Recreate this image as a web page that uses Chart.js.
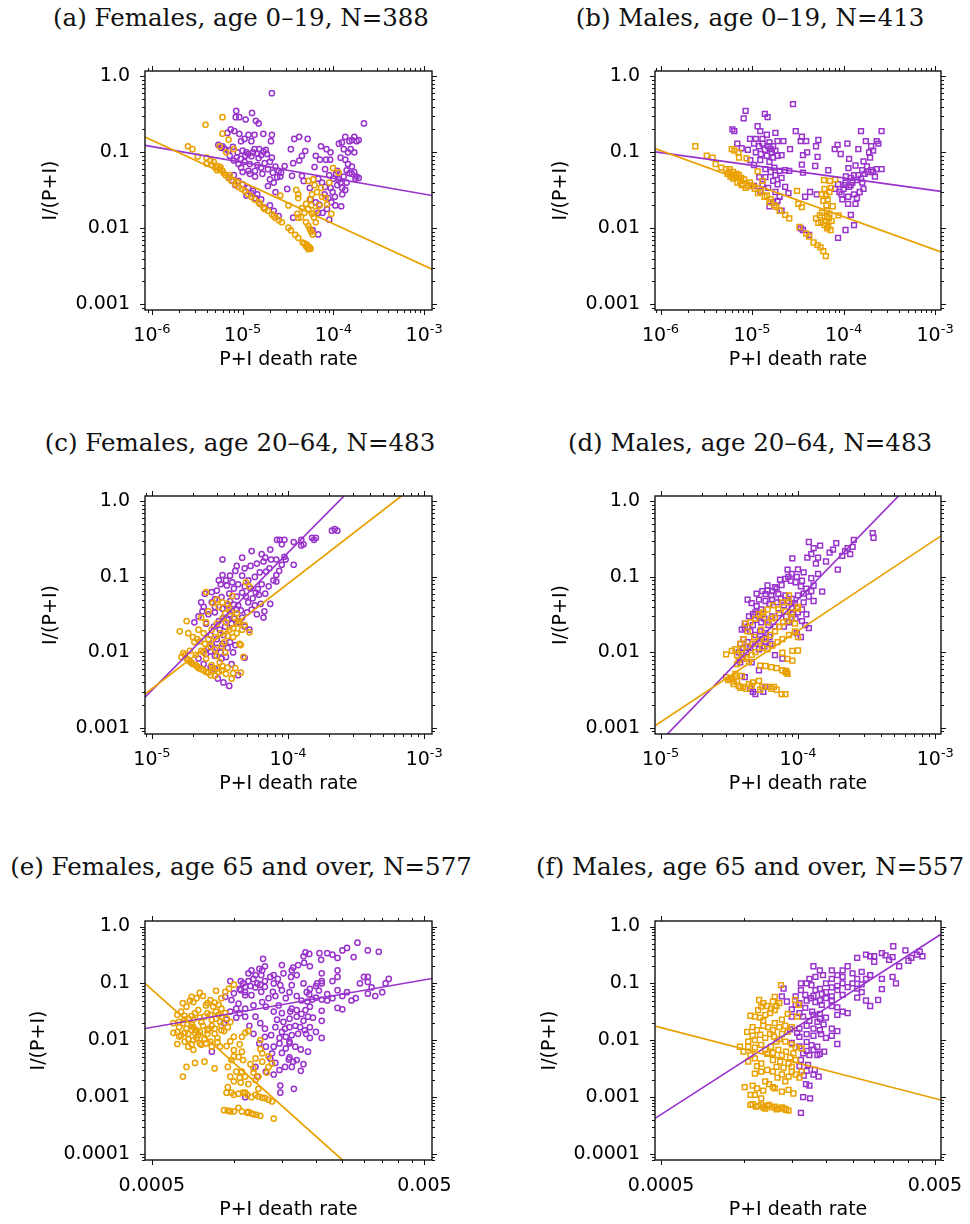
<!DOCTYPE html>
<html>
<head>
<meta charset="utf-8">
<script src="https://cdn.jsdelivr.net/npm/chart.js@4.4.1/dist/chart.umd.min.js"></script>
<style>
body { margin: 0; background: #fff; width: 970px; height: 1224px; position: relative; overflow: hidden; }
canvas { position: absolute; }
.ttl { position: absolute; font-family: "DejaVu Serif"; font-size: 24.5px; line-height: 1; white-space: nowrap; transform: translate(-50%, -50%); color: #111; }
</style>
</head>
<body>
<div class="ttl" style="left:241px;top:18px">(a) Females, age 0–19, N=388</div>
<div class="ttl" style="left:750px;top:18px">(b) Males, age 0–19, N=413</div>
<div class="ttl" style="left:240px;top:443px">(c) Females, age 20–64, N=483</div>
<div class="ttl" style="left:750px;top:443px">(d) Males, age 20–64, N=483</div>
<div class="ttl" style="left:241px;top:867px">(e) Females, age 65 and over, N=577</div>
<div class="ttl" style="left:750px;top:867px">(f) Males, age 65 and over, N=557</div>

<canvas id="pa" width="485" height="410" style="left:0;top:0"></canvas>
<canvas id="pb" width="485" height="410" style="left:485px;top:0"></canvas>
<canvas id="pc" width="485" height="410" style="left:0;top:420px"></canvas>
<canvas id="pd" width="485" height="410" style="left:485px;top:420px"></canvas>
<canvas id="pe" width="485" height="394" style="left:0;top:830px"></canvas>
<canvas id="pf" width="485" height="394" style="left:485px;top:830px"></canvas>

<script>
const ORANGE = '#E9A100';
const PURPLE = '#9933CC';

// tick values / labels
const yTicksYoung = [1, 0.1, 0.01, 0.001];
const yTicksOld = [1, 0.1, 0.01, 0.001, 0.0001];
const yTickText = { 1: '1.0', 0.1: '0.1', 0.01: '0.01', 0.001: '0.001', 0.0001: '0.0001' };
const xLabels019 = [[1e-6, '10', '-6'], [1e-5, '10', '-5'], [1e-4, '10', '-4'], [1e-3, '10', '-3']];
const xLabels2064 = [[1e-5, '10', '-5'], [1e-4, '10', '-4'], [1e-3, '10', '-3']];
const xLabels65 = [[0.0005, '0.0005', ''], [0.005, '0.005', '']];
const xTicks65 = [0.0005, 0.001, 0.0015, 0.002, 0.0025, 0.003, 0.0035, 0.004, 0.0045, 0.005];

// (a) Females 0-19
const aOrange = [[6e-6,0.29],[3.9e-6,0.23],[6e-6,0.176],[7e-6,0.147],[2.5e-6,0.12],[2.8e-6,0.11],[5.6e-6,0.12],[8e-6,0.11],[6.6e-6,0.1],[3.2e-6,0.088],[4e-6,0.085],[4e-6,0.071],
  [5e-6,0.063],[6e-6,0.057],[6.5e-6,0.05],[7e-6,0.046],[7.6e-6,0.042],[8.3e-6,0.038],[9.8e-6,0.033],[1.06e-5,0.031],[1.25e-5,0.026],[1.5e-5,0.022],[1.7e-5,0.0187],[1.9e-5,0.017],[2.3e-5,0.0138],[2.7e-5,0.012],[3.2e-5,0.0102],[3.4e-5,0.0094],[3.8e-5,0.0082],[4.1e-5,0.0075],[4.6e-5,0.0065],[5e-5,0.0058],[5.3e-5,0.0053],
  [5.3e-6,0.066],[5.6e-6,0.06],[4.6e-6,0.068],[5.2e-6,0.058],[6.2e-6,0.053],[5.5e-5,0.0055],[5.1e-5,0.0061],[4.8e-5,0.0063],
  [7.2e-6,0.05],[1.55e-5,0.021],[1.75e-5,0.018],[2.2e-5,0.0145],
  [2.6e-5,0.027],[3.2e-5,0.02],[3.9e-5,0.032],[4.1e-5,0.028],[4.1e-5,0.025],[4e-5,0.0155],[4.1e-5,0.0138],
  [5.3e-5,0.042],[6e-5,0.044],[6.2e-5,0.037],[7.3e-5,0.034],[9.9e-5,0.062],[1.14e-4,0.054],[5e-5,0.021],[5.3e-5,0.018],[5.8e-5,0.0155],[6.1e-5,0.014],[5e-5,0.012],[5.3e-5,0.0108],[5.9e-5,0.0083],[9.5e-5,0.0155],[8.5e-5,0.0205],[7.5e-5,0.026],[9e-5,0.04],[8.2e-5,0.025],
  [5.5e-5,0.024],[5.7e-5,0.02],[6.5e-5,0.017],[7e-5,0.02],[6.6e-5,0.03],[5.8e-5,0.028],[4.5e-5,0.0185],[4.8e-5,0.016],[4.4e-5,0.014],[6.4e-5,0.012],[5.5e-5,0.0098],[5.7e-5,0.009],[5.4e-5,0.0057],[5.2e-5,0.0056],[5.6e-5,0.0054],[2.5e-5,0.0128],[2.1e-5,0.0152],[1.35e-5,0.024],[1.15e-5,0.028],[9e-6,0.035],[8.8e-6,0.04],[5.7e-6,0.064],[4.8e-6,0.075],[4.4e-6,0.078]];
const aPurple = [[2.1e-5,0.6],[8.5e-6,0.35],[8.4e-6,0.29],[9.2e-6,0.29],[1.08e-5,0.27],[1.27e-5,0.33],[1.4e-5,0.26],[1.5e-5,0.24],
  [7.4e-6,0.2],[6.8e-6,0.18],[8.1e-6,0.19],[9.2e-6,0.175],[1.16e-5,0.17],[1.35e-5,0.17],[1.69e-5,0.175],[2.1e-5,0.17],[2.05e-5,0.14],[9.6e-6,0.14],[1.05e-5,0.15],[1.25e-5,0.14],[6e-6,0.12],[6.4e-6,0.11],[7.8e-6,0.118],[1.35e-5,0.11],[1.52e-5,0.11],[1.7e-5,0.102],[1.8e-5,0.108],[1.16e-5,0.095],[1.07e-5,0.09],[1.25e-5,0.089],[1.5e-5,0.084],[2.1e-5,0.085],[7.2e-6,0.09],[8e-6,0.078],[9e-6,0.07],[9.6e-6,0.063],[1.16e-5,0.057],[1.37e-5,0.057],[1.6e-5,0.063],[1.9e-5,0.06],[2.15e-5,0.054],[2.5e-5,0.057],[2.65e-5,0.054],[2.4e-5,0.047],[2e-5,0.044],[1.37e-5,0.048],[7.1e-6,0.046],[7.6e-6,0.043],[8.3e-6,0.037],[1.1e-5,0.027],[1.25e-5,0.029],[1.38e-5,0.025],[1.55e-5,0.021],[1.75e-5,0.0187],[1.9e-5,0.036],[2.3e-5,0.03],[3.1e-5,0.033],[5.4e-6,0.125],[5.8e-6,0.115],
  [7e-6,0.105],[8.8e-6,0.1],[1e-5,0.105],[1.1e-5,0.1],[1.3e-5,0.1],[1.45e-5,0.097],[1.6e-5,0.092],[1.85e-5,0.095],[2e-5,0.075],[1.75e-5,0.072],[1.45e-5,0.068],[1.2e-5,0.07],[1.05e-5,0.075],[9.5e-6,0.082],[8.6e-6,0.086],[2.3e-5,0.065],[2.6e-5,0.048],[2.2e-5,0.04],[1.65e-5,0.052],[1.2e-5,0.052],[1e-5,0.055],[8e-6,0.05],[9e-6,0.042],[1e-5,0.038],[1.15e-5,0.034],[1.3e-5,0.031],[1.45e-5,0.028],[1.6e-5,0.024],[2e-5,0.02],[2.2e-5,0.017],[2.5e-5,0.0145],
  [3.7e-5,0.15],[4.2e-5,0.16],[5.2e-5,0.15],[3.4e-5,0.11],[4.9e-5,0.104],[4.5e-5,0.09],[4.2e-5,0.078],[3.6e-5,0.072],[2.9e-5,0.066],[3.5e-5,0.049],[4.5e-5,0.049],[4.7e-5,0.042],[5.5e-5,0.034],[6.2e-5,0.064],[6.4e-5,0.09],[7.1e-5,0.08],[7.3e-5,0.12],[8.4e-5,0.11],[9.3e-5,0.1],[8.3e-5,0.08],[8.1e-5,0.06],[9.2e-5,0.08],[5.6e-5,0.024],[6.4e-5,0.022],[7e-5,0.0205],[7.6e-5,0.016],[6.8e-5,0.0083],[5.9e-5,0.0095],[6.8e-5,0.016],[8.1e-5,0.035],[9.3e-5,0.034],[9.8e-5,0.03],[1.04e-4,0.026],
  [1.15e-4,0.13],[1.24e-4,0.135],[1.35e-4,0.16],[1.5e-4,0.14],[1.6e-4,0.145],[1.55e-4,0.11],[1.3e-4,0.11],[1.2e-4,0.085],[1.6e-4,0.065],[1.4e-4,0.058],[1.5e-4,0.053],[1.75e-4,0.045],[1.3e-4,0.048],[1.2e-4,0.04],[1.1e-4,0.037],[1.25e-4,0.028],[1.22e-4,0.0195],[1.1e-4,0.057],[2.17e-4,0.24],[3.6e-5,0.0138],
  [9e-5,0.05],[1e-4,0.045],[1.07e-4,0.052],[1.15e-4,0.044],[1.25e-4,0.034],[1.35e-4,0.032],[1.4e-4,0.04],[1.6e-4,0.052],[1.7e-4,0.055],[1.8e-4,0.048],[1.9e-4,0.046],[8.8e-5,0.025],[9.5e-5,0.022],[1.05e-4,0.02],[8e-5,0.028],[7.5e-5,0.04],[6.8e-5,0.045],[9e-5,0.013],[8.5e-5,0.018],[1.45e-4,0.1],[1.7e-4,0.1],[1.35e-4,0.08],[1.45e-4,0.07],[1.8e-4,0.14],[1.9e-4,0.145],[1.7e-4,0.16]];
const aOrangeFit = [[8.4e-7, 0.159], [1.22e-3, 0.0029]];
const aPurpleFit = [[8.4e-7, 0.123], [1.22e-3, 0.027]];

// (b) Males 0-19
const bOrange = [[2.4e-6,0.12],[6e-6,0.11],[6.4e-6,0.105],[7.1e-6,0.1],[7.2e-6,0.085],[8.7e-6,0.083],[3.2e-6,0.09],[3.7e-6,0.085],[4e-6,0.07],[4.6e-6,0.063],[5.2e-6,0.06],[5.6e-6,0.055],[6e-6,0.05],[6.6e-6,0.047],[7.4e-6,0.042],[8e-6,0.038],[9e-6,0.036],[1.07e-5,0.033],[1.16e-5,0.029],[1.37e-5,0.026],[1.55e-5,0.022],[1.75e-5,0.02],[2e-5,0.017],[2.3e-5,0.015],[2.55e-5,0.0135],[1.3e-5,0.042],[1.15e-5,0.056],[5.4e-6,0.052],[5.8e-6,0.048],[6.2e-6,0.045],[6.9e-6,0.04],[7.7e-6,0.037],[8.5e-6,0.034],
  [3.5e-5,0.019],[3.2e-5,0.021],[3.1e-5,0.031],
  [3.3e-5,0.0104],[3.9e-5,0.0085],[4.2e-5,0.0078],[4.7e-5,0.0065],[5.2e-5,0.006],[5.6e-5,0.0056],[6e-5,0.005],[6.4e-5,0.0043],
  [6.1e-5,0.043],[7.1e-5,0.042],[7.3e-5,0.034],[6.2e-5,0.033],[6.4e-5,0.027],[6e-5,0.023],[6.7e-5,0.024],[7.6e-5,0.0195],[5.8e-5,0.016],[5.5e-5,0.0148],[5e-5,0.0135],[5.3e-5,0.0118],[6.2e-5,0.011],[6.9e-5,0.0135],[7.2e-5,0.0095],[8.8e-5,0.0148],[8.1e-5,0.044],[6.6e-5,0.017],[6.3e-5,0.0125],[7e-5,0.0155],
  [5.7e-6,0.06],[6.2e-6,0.055],[6.8e-6,0.052],[7.2e-6,0.05],[7.6e-6,0.046],[8.2e-6,0.044],[9.5e-6,0.04],[1e-5,0.036],[1.25e-5,0.03],[1.45e-5,0.027],[1.6e-5,0.024],[1.85e-5,0.019],[6.6e-5,0.014],[6.8e-5,0.0105],[6.6e-5,0.01],[5.7e-5,0.012],[7.4e-5,0.0125],[6.5e-5,0.02],[5.8e-5,0.028],[7e-5,0.03]];
const bPurple = [[2.8e-5,0.43],[8.5e-6,0.35],[8.1e-6,0.28],[1.38e-5,0.32],[1.48e-5,0.29],[6.1e-6,0.2],[6.4e-6,0.19],[1.15e-5,0.22],[1.23e-5,0.19],[1.45e-5,0.17],[1.8e-5,0.18],[3e-5,0.19],[3.5e-5,0.16],[3.9e-5,0.14],[3.4e-5,0.14],[9.5e-6,0.15],[1.05e-5,0.13],[1.19e-5,0.12],[1.55e-5,0.135],[1.9e-5,0.14],[2.2e-5,0.14],[6.9e-6,0.13],[7.7e-6,0.113],[9e-6,0.108],[1.38e-5,0.108],[1.65e-5,0.1],[2.1e-5,0.092],[2.6e-5,0.11],[3.6e-5,0.092],[4e-5,0.1],[5.3e-5,0.145],[5e-5,0.12],[5.2e-5,0.087],[3.5e-5,0.069],[4.9e-5,0.066],
  [9.6e-6,0.079],[1.05e-5,0.068],[1.23e-5,0.079],[1.55e-5,0.075],[1.75e-5,0.063],[2e-5,0.057],[2.3e-5,0.058],[2.55e-5,0.057],[3.6e-5,0.054],[1.2e-5,0.047],[1.4e-5,0.047],[1.7e-5,0.042],[1.9e-5,0.038],[2.3e-5,0.035],[2.5e-5,0.029],[3.8e-5,0.026],[4.3e-5,0.03],[5.1e-5,0.028],[1.05e-5,0.036],[1.23e-5,0.031],[1.55e-5,0.0195],[1.7e-5,0.022],[2.1e-5,0.017],[3.4e-5,0.01],[3.6e-5,0.0095],[4.2e-5,0.0082],
  [1.1e-5,0.15],[1.3e-5,0.15],[1.5e-5,0.12],[1.7e-5,0.12],[1.3e-5,0.13],[1.6e-5,0.11],[1.8e-5,0.105],[1.9e-5,0.09],[1.7e-5,0.085],[1.45e-5,0.09],[1.25e-5,0.095],[1.1e-5,0.1],[1.4e-5,0.06],[1.6e-5,0.055],[1.8e-5,0.05],[2.1e-5,0.046],[1.3e-5,0.038],[1.5e-5,0.034],[1.8e-5,0.03],[2e-5,0.026],[1.9e-5,0.023],
  [6.8e-5,0.058],[8e-5,0.11],[9.3e-5,0.095],[8.6e-5,0.125],[1.1e-4,0.13],[1.45e-4,0.11],[1.55e-4,0.19],[2.6e-4,0.19],[1.75e-4,0.14],[2.3e-4,0.14],[2.1e-4,0.105],[1.65e-4,0.076],[1.15e-4,0.082],[1.35e-4,0.067],[1.13e-4,0.062],[1.6e-4,0.058],[2e-4,0.058],[2.6e-4,0.06],[2.2e-4,0.048],[1.06e-4,0.048],[1.2e-4,0.046],[1.4e-4,0.043],[8.7e-5,0.038],[1.02e-4,0.037],[1.2e-4,0.037],[1.65e-4,0.033],[1.5e-4,0.03],[1.3e-4,0.028],[1.12e-4,0.026],[9.7e-5,0.024],[1.12e-4,0.021],[1.35e-4,0.021],[1.2e-4,0.015],[1.3e-4,0.011],[1.05e-4,0.0095],[8.7e-5,0.0075],[8.1e-5,0.033],
  [1.05e-4,0.04],[1.15e-4,0.035],[1.25e-4,0.04],[1.3e-4,0.05],[1.45e-4,0.05],[1.55e-4,0.045],[1.7e-4,0.052],[1.85e-4,0.055],[2.1e-4,0.055],[2.3e-4,0.06],[1.8e-4,0.065],[9e-5,0.03],[9.5e-5,0.028],[1e-4,0.033],[1.4e-4,0.025],[1.6e-4,0.04],[2e-4,0.12],[2.4e-4,0.13],[1.9e-4,0.1],[1.95e-4,0.085]];
const bOrangeFit = [[8.7e-7, 0.112], [1.16e-3, 0.0049]];
const bPurpleFit = [[8.7e-7, 0.101], [1.16e-3, 0.0305]];

// (c) Females 20-64
const cOrange = [[2.5e-5,0.063],[1.8e-5,0.026],[1.6e-5,0.019],[1.85e-5,0.018],[2e-5,0.016],[2.15e-5,0.015],[2.25e-5,0.014],[2.45e-5,0.013],[1.7e-5,0.0098],[1.65e-5,0.0087],[1.8e-5,0.0083],[1.9e-5,0.0075],[2e-5,0.007],[2.15e-5,0.0065],[2.3e-5,0.006],[2.5e-5,0.0055],[2.7e-5,0.005],[2.9e-5,0.0049],[3.25e-5,0.0058],[3.5e-5,0.0052],[3.95e-5,0.0053],[3.85e-5,0.0045],
  [2.3e-5,0.029],[2.6e-5,0.035],[2.5e-5,0.025],[2.75e-5,0.02],[3e-5,0.024],[3.1e-5,0.04],[3.45e-5,0.033],[3.7e-5,0.039],[3.9e-5,0.056],[4.05e-5,0.029],[4.3e-5,0.024],[3.95e-5,0.021],[3.6e-5,0.0165],[3.4e-5,0.0136],[3.95e-5,0.016],[4.4e-5,0.013],[4.4e-5,0.026],[4.8e-5,0.023],[5.2e-5,0.0185],[4.2e-5,0.018],[4.7e-5,0.0087],[4.9e-5,0.085],[5.2e-5,0.075],[2.9e-5,0.011],[2.6e-5,0.015],[3.25e-5,0.0122],[2.4e-5,0.01],[2.5e-5,0.0083],[3.15e-5,0.0074],[2.75e-5,0.0068],[3.45e-5,0.01],[2.05e-5,0.0137],
  [1.75e-5,0.0092],[1.85e-5,0.0079],[1.95e-5,0.0073],[2.1e-5,0.0068],[2.2e-5,0.0062],[2.4e-5,0.0058],[2.6e-5,0.0054],[2.8e-5,0.0057],[3e-5,0.0062],[3.3e-5,0.0066],
  [2.8e-5,0.045],[3e-5,0.05],[3.3e-5,0.046],[3.6e-5,0.044],[3.8e-5,0.035],[4.2e-5,0.033],[3.3e-5,0.028],[3.5e-5,0.025],[3.2e-5,0.018],[3.7e-5,0.02],[4.6e-5,0.02],[2.9e-5,0.016],[2.7e-5,0.012],[3e-5,0.009],[2.2e-5,0.02],[2.4e-5,0.018],[2.3e-5,0.0105],[2.1e-5,0.0093],[1.9e-5,0.0105],[2.8e-5,0.0062],[3.1e-5,0.0055],[3.6e-5,0.0063],[4.1e-5,0.0062],[4.5e-5,0.0054],[4.5e-5,0.0125]];
const cPurple = [[2.2e-4,0.43],[2.3e-4,0.41],[2.1e-4,0.41],[1.5e-4,0.33],[1.6e-4,0.33],[1.55e-4,0.31],[1.25e-4,0.31],[1.25e-4,0.26],[1.3e-4,0.27],[1.1e-4,0.29],[8.3e-5,0.31],[8.7e-5,0.31],[9.4e-5,0.31],[9e-5,0.27],[9.4e-5,0.185],[1.1e-4,0.145],
  [5.4e-5,0.22],[4.6e-5,0.18],[7.4e-5,0.23],[6.4e-5,0.2],[6.8e-5,0.18],[7.5e-5,0.17],[8.2e-5,0.17],[3.3e-5,0.17],[4.2e-5,0.14],[4.8e-5,0.13],[5.3e-5,0.14],[6.2e-5,0.115],[6.9e-5,0.118],[7.3e-5,0.13],[8.2e-5,0.106],[8.2e-5,0.087],[3.3e-5,0.106],[3.75e-5,0.104],[4.1e-5,0.12],[4.6e-5,0.104],[5.1e-5,0.09],[5.7e-5,0.1],[6.4e-5,0.08],[3.2e-5,0.08],[3.55e-5,0.077],[4e-5,0.07],[4.6e-5,0.062],[5.8e-5,0.062],[6e-5,0.069],[3e-5,0.066],[2.75e-5,0.063],[2.45e-5,0.06],
  [2.3e-5,0.046],[2.4e-5,0.04],[2.75e-5,0.046],[2.9e-5,0.051],[3.25e-5,0.054],[3.75e-5,0.048],[4.3e-5,0.042],[5.1e-5,0.046],[5.7e-5,0.042],[6.3e-5,0.044],[7.4e-5,0.044],[2.6e-5,0.032],[2.9e-5,0.034],[3.35e-5,0.029],[3.75e-5,0.032],[4.2e-5,0.037],[4.6e-5,0.029],[5.9e-5,0.032],[6.7e-5,0.035],[6.6e-5,0.029],[2.05e-5,0.025],[2.5e-5,0.024],[2.85e-5,0.022],[3.15e-5,0.02],[3.45e-5,0.022],[3.85e-5,0.024],[4.8e-5,0.022],[5.2e-5,0.02],
  [2.7e-5,0.017],[3e-5,0.015],[3.35e-5,0.017],[3.75e-5,0.0137],[2.75e-5,0.013],[2.7e-5,0.0103],[2.9e-5,0.009],[3.25e-5,0.0083],[3.2e-5,0.01],[3.95e-5,0.01],[3.85e-5,0.007],[4.3e-5,0.005],[4.8e-5,0.0085],[2.2e-5,0.0083],[2.4e-5,0.007],[2.7e-5,0.0064],[2.9e-5,0.006],[3.05e-5,0.0045],[3.35e-5,0.004],[3.7e-5,0.0036],
  [3.1e-5,0.09],[3.5e-5,0.09],[3.9e-5,0.085],[4.3e-5,0.08],[4.8e-5,0.075],[5.3e-5,0.07],[3.7e-5,0.06],[4.2e-5,0.055],[4.9e-5,0.055],[5.5e-5,0.052],[6.1e-5,0.058],[6.8e-5,0.06],[7.2e-5,0.075],[7.8e-5,0.09],[8.6e-5,0.12],[9e-5,0.145],[9.6e-5,0.17],[6.6e-5,0.16],[5.9e-5,0.15],[2.9e-5,0.04],[3.3e-5,0.038],[3.6e-5,0.042],[4e-5,0.043],[4.5e-5,0.036],[5e-5,0.034],[5.4e-5,0.037],[3.1e-5,0.026],[3.6e-5,0.027],[4e-5,0.028],[4.4e-5,0.025],[3.3e-5,0.013],[3.6e-5,0.0115],[3e-5,0.0115],[2.6e-5,0.0115],[2.5e-5,0.0095],[3.5e-5,0.0087],[4.1e-5,0.0125],[2.35e-5,0.035],[2.2e-5,0.03]];
const cOrangeFit = [[8.9e-6, 0.0028], [6.8e-4, 1.18]];
const cPurpleFit = [[8.9e-6, 0.00255], [2.58e-4, 1.18]];

// (d) Males 20-64
const dOrange = [[3e-5,0.0094],[3.5e-5,0.011],[3.8e-5,0.013],[4e-5,0.015],[4.3e-5,0.019],[4.15e-5,0.024],[4.5e-5,0.025],[4.9e-5,0.028],[5.2e-5,0.032],[5.6e-5,0.034],[6e-5,0.037],[6.6e-5,0.042],[7.2e-5,0.037],[7.7e-5,0.046],[8.6e-5,0.057],[8.1e-5,0.035],[9e-5,0.034],[1e-4,0.038],[1e-4,0.016],[9.5e-5,0.019],[8.6e-5,0.017],[7.7e-5,0.015],[7.1e-5,0.0137],[6.5e-5,0.0123],[6e-5,0.011],[5.5e-5,0.0115],[4.9e-5,0.0101],[4.6e-5,0.0093],[4.2e-5,0.0083],[3.7e-5,0.0079],[3.6e-5,0.007],[9.1e-5,0.0105],[1e-4,0.0106],[9.1e-5,0.0078],[8.4e-5,0.0082],[7.7e-5,0.0099],
  [5.3e-5,0.0067],[5.8e-5,0.0066],[6.4e-5,0.0064],[7e-5,0.0062],[7.7e-5,0.0058],[8.1e-5,0.0055],[8.4e-5,0.0052],
  [3e-5,0.0047],[3.3e-5,0.0045],[3.6e-5,0.0042],[3.7e-5,0.0036],[4e-5,0.0035],[4.4e-5,0.0038],[4.7e-5,0.004],[5.2e-5,0.0042],[5.5e-5,0.0035],[6.1e-5,0.0035],[6.4e-5,0.0033],[7e-5,0.0032],[7.6e-5,0.0028],[8.1e-5,0.0028],[3.9e-5,0.0049],[3.2e-5,0.0044],[3.4e-5,0.0041],[3.5e-5,0.0048],
  [5.5e-5,0.031],[6.8e-5,0.029],[1e-4,0.04],[8.6e-5,0.046],
  [3.3e-5,0.0105],[3.9e-5,0.011],[4.3e-5,0.012],[4.7e-5,0.013],[5.2e-5,0.014],[5.8e-5,0.015],[6.3e-5,0.017],[6.8e-5,0.019],[7.3e-5,0.022],[7.8e-5,0.025],[8.4e-5,0.026],[9e-5,0.028],[9.5e-5,0.024],[4.8e-5,0.016],[5.4e-5,0.02],[6e-5,0.025],[6.4e-5,0.028],[3.6e-5,0.0092],[4e-5,0.0087],[4.4e-5,0.0075],[3.1e-5,0.0043],[3.4e-5,0.0038],[3.8e-5,0.0034],[4.2e-5,0.0033],[4.6e-5,0.0036],[5.3e-5,0.0032],[6.7e-5,0.0035],[3.5e-5,0.0052],[8.3e-5,0.0054],[8.2e-5,0.0057]];
const dPurple = [[3.5e-4,0.38],[3.55e-4,0.33],[2.55e-4,0.31],[2.5e-4,0.25],[2.3e-4,0.24],[1.9e-4,0.28],[1.8e-4,0.23],[1.95e-4,0.125],[2.1e-4,0.19],[2.4e-4,0.2],[1.2e-4,0.29],[1.3e-4,0.24],[1.45e-4,0.26],[1.25e-4,0.2],[1.17e-4,0.18],
  [9.1e-5,0.176],[8.4e-5,0.125],[1e-4,0.126],[1.1e-4,0.115],[1.35e-4,0.15],[1.4e-4,0.11],[1.25e-4,0.096],[1.5e-4,0.064],[1.3e-4,0.077],[1.15e-4,0.07],[1.3e-4,0.048],[1.2e-4,0.021],[7.4e-5,0.092],[8.1e-5,0.094],[8.9e-5,0.089],[9.6e-5,0.085],[1.07e-4,0.089],[6e-5,0.077],[6.8e-5,0.073],[5.8e-5,0.059],[6.4e-5,0.057],[7.2e-5,0.059],[8.1e-5,0.057],[9e-5,0.051],[1e-4,0.057],[1.1e-4,0.046],[1.07e-4,0.037],[1.15e-4,0.032],
  [4.3e-5,0.05],[5e-5,0.041],[4.9e-5,0.034],[5.4e-5,0.037],[6.2e-5,0.044],[7e-5,0.046],[7.9e-5,0.042],[9e-5,0.039],[1e-4,0.034],[9.6e-5,0.028],[1.07e-4,0.026],[1.13e-4,0.023],[8.6e-5,0.025],[7.9e-5,0.022],[6.8e-5,0.022],[6.1e-5,0.023],[5.4e-5,0.025],[4.9e-5,0.027],[4.1e-5,0.024],[4.1e-5,0.021],[4.5e-5,0.019],[4.9e-5,0.017],[5.5e-5,0.015],[6.2e-5,0.016],[4e-5,0.015],[4.3e-5,0.0137],[4.9e-5,0.013],[5.8e-5,0.0137],[6.8e-5,0.0092],[7.7e-5,0.0083],[4e-5,0.0115],[3.7e-5,0.01],[4.2e-5,0.01],[3.9e-5,0.0083],[3.8e-5,0.0074],[4.6e-5,0.0074],[5.2e-5,0.0058],[4.1e-5,0.0047],[4.5e-5,0.0033],[4.7e-5,0.003],[4.9e-5,0.0028],[5.8e-5,0.0035],[5.6e-5,0.003],
  [5e-5,0.06],[5.5e-5,0.065],[6e-5,0.066],[6.5e-5,0.065],[7e-5,0.07],[7.6e-5,0.078],[8.5e-5,0.1],[9e-5,0.11],[9.8e-5,0.1],[1.05e-4,0.075],[1.1e-4,0.06],[1.2e-4,0.055],[1.25e-4,0.065],[4.6e-5,0.045],[5.2e-5,0.05],[5.8e-5,0.048],[6.5e-5,0.05],[7.5e-5,0.052],[8.5e-5,0.048],[9.5e-5,0.045],[4.4e-5,0.03],[4.7e-5,0.032],[5.2e-5,0.03],[5.7e-5,0.028],[6.5e-5,0.03],[7.3e-5,0.033],[8.2e-5,0.03],[9.2e-5,0.032],[3.9e-5,0.02],[4.3e-5,0.022],[4.7e-5,0.023],[5.3e-5,0.019],[5.8e-5,0.018],[3.8e-5,0.013],[4.5e-5,0.0115],[5.2e-5,0.011],[5.7e-5,0.012],[6.3e-5,0.013],[1.05e-4,0.016],[9.8e-5,0.018],[1.6e-4,0.16],[1.7e-4,0.21],[2.2e-4,0.22],[1.4e-4,0.18]];
const dOrangeFit = [[9.1e-6, 0.00107], [1.1e-3, 0.35]];
const dPurpleFit = [[1.12e-5, 8.3e-4], [5.4e-4, 1.18]];

// (e) Females 65+
const eOrange = [[0.00093,0.071],[0.00086,0.074],[0.00075,0.068],[0.0007,0.058],[0.0009,0.055],[0.00082,0.051],[0.001,0.095],[0.00096,0.081],[0.00079,0.041],[0.00071,0.047],[0.00067,0.039],[0.00064,0.032],[0.00074,0.034],[0.00084,0.039],[0.0009,0.036],[0.0007,0.027],[0.00066,0.023],[0.00063,0.021],[0.00071,0.023],[0.00078,0.026],[0.00083,0.023],[0.00088,0.028],[0.00093,0.03],[0.00063,0.017],[0.00067,0.016],[0.00071,0.017],[0.00077,0.018],[0.00083,0.018],[0.00089,0.021],[0.00064,0.0123],[0.00068,0.013],[0.00074,0.0123],[0.0008,0.013],[0.00085,0.013],[0.00063,0.0116],[0.00071,0.0101],[0.00075,0.0088],[0.00068,0.0077],[0.00071,0.0068],[0.00076,0.0083],[0.00083,0.0077],[0.00062,0.0086],[0.00067,0.0034],[0.00065,0.0023],[0.00072,0.004],[0.00078,0.0042],[0.00085,0.0032],[0.00089,0.0077],[0.00094,0.0079],[0.001,0.0067],[0.00107,0.0063],[0.0011,0.0135],[0.00113,0.0145],[0.001,0.0115],[0.00107,0.0115],
  [0.00066,0.027],[0.0007,0.019],[0.00073,0.015],[0.00076,0.021],[0.00081,0.016],[0.00086,0.024],[0.0009,0.018],[0.00094,0.024],[0.00097,0.021],[0.00068,0.0105],[0.00072,0.0135],[0.00078,0.0105],[0.00082,0.0095],[0.00087,0.011],[0.00092,0.0145],
  [0.00065,0.045],[0.00069,0.05],[0.00073,0.055],[0.00077,0.06],[0.0008,0.045],[0.00085,0.046],[0.00088,0.042],[0.00062,0.028],[0.00065,0.02],[0.00068,0.024],[0.00072,0.03],[0.00075,0.025],[0.0008,0.03],[0.00082,0.028],[0.00086,0.032],[0.0009,0.026],[0.00062,0.014],[0.00066,0.0135],[0.0007,0.015],[0.00075,0.014],[0.0008,0.015],[0.00085,0.016],[0.0009,0.015],[0.00095,0.017],[0.00066,0.0095],[0.0007,0.0085],[0.00073,0.011],[0.00079,0.0088],[0.00087,0.0093],[0.00097,0.0096],[0.00105,0.0085],[0.0006,0.02],[0.0006,0.0135],
  [0.001,0.0052],[0.00104,0.0051],[0.00095,0.0034],[0.00102,0.0028],[0.00097,0.0023],[0.001,0.0019],[0.00106,0.0018],[0.0011,0.0023],[0.00113,0.0017],[0.00094,0.0012],[0.00098,0.0012],[0.0011,0.0012],[0.00116,0.001],[0.00123,0.00103],[0.0013,0.00096],[0.00138,0.00084],[0.00095,0.0015],[0.00107,0.0028],[0.0012,0.002],[0.0012,0.0048],[0.00125,0.007],[0.00127,0.0059],[0.00127,0.0042],[0.00134,0.0034],[0.00132,0.0027],[0.00123,0.0023],[0.00118,0.0032],[0.00123,0.0014],[0.00125,0.0101],[0.00134,0.0052],[0.00138,0.0039],
  [0.00098,0.0045],[0.00108,0.0045],[0.00115,0.0038],[0.00118,0.0027],[0.00105,0.0022],[0.001,0.0011],[0.00104,0.00115],[0.00108,0.0012],[0.00112,0.0011],[0.0012,0.0011],[0.00127,0.00098],[0.00134,0.0009],
  [0.00092,0.00059],[0.00095,0.00058],[0.001,0.00056],[0.00104,0.00065],[0.00107,0.00056],[0.00112,0.00053],[0.00116,0.00052],[0.00121,0.00049],[0.00125,0.00047],[0.0014,0.00042],[0.00097,0.00056],[0.00113,0.00055],[0.00118,0.0005]];
const ePurple = [[0.00284,0.52],[0.0026,0.42],[0.0025,0.38],[0.0023,0.32],[0.0024,0.28],[0.00275,0.29],[0.0031,0.38],[0.0034,0.36],[0.0037,0.12],[0.0022,0.34],[0.00206,0.34],[0.00209,0.26],[0.00189,0.33],[0.00183,0.35],[0.0018,0.3],[0.0019,0.2],[0.00181,0.23],[0.00172,0.21],[0.00165,0.19],[0.00163,0.17],[0.0015,0.21],[0.00152,0.15],[0.00162,0.13],[0.0017,0.14],[0.0018,0.1],[0.0021,0.15],[0.0021,0.11],[0.0024,0.17],[0.0024,0.13],[0.0023,0.11],[0.00202,0.1],[0.002,0.09],[0.0021,0.1],[0.003,0.13],[0.0031,0.13],[0.0031,0.106],[0.0029,0.1],[0.0026,0.07],[0.0024,0.076],[0.0031,0.066],[0.0027,0.05],
  [0.00189,0.064],[0.00177,0.05],[0.00186,0.048],[0.00194,0.052],[0.002,0.056],[0.0021,0.052],[0.0022,0.05],[0.0019,0.039],[0.00183,0.034],[0.00177,0.029],[0.00187,0.026],[0.00195,0.025],[0.0021,0.033],[0.0024,0.037],[0.0025,0.035],[0.0021,0.022],[0.0021,0.011],[0.0019,0.011],[0.00184,0.013],[0.00187,0.0063],[0.0018,0.0038],[0.00176,0.0029],[0.00166,0.0014],[0.00165,0.0042],[0.00159,0.0046],[0.00154,0.0034],[0.00163,0.0034],
  [0.00128,0.27],[0.00116,0.17],[0.00127,0.17],[0.00126,0.14],[0.00113,0.15],[0.00118,0.12],[0.00113,0.11],[0.00122,0.1],[0.0013,0.087],[0.00136,0.13],[0.0014,0.1],[0.00148,0.093],[0.0015,0.076],[0.00139,0.071],[0.00134,0.055],[0.00126,0.071],[0.00116,0.062],[0.0011,0.062],[0.00106,0.076],[0.001,0.067],[0.00097,0.11],[0.00106,0.11],[0.0011,0.087],[0.00093,0.058],[0.00098,0.051],[0.00104,0.044],[0.0011,0.036],[0.00118,0.041],[0.00127,0.047],[0.00131,0.039],[0.00146,0.041],[0.0016,0.07],[0.00163,0.093],[0.00163,0.036],[0.00161,0.032],
  [0.0017,0.026],[0.0016,0.024],[0.00152,0.021],[0.00144,0.023],[0.00142,0.017],[0.00154,0.016],[0.00168,0.018],[0.00175,0.017],[0.00182,0.015],[0.00172,0.013],[0.00163,0.0123],[0.00155,0.0115],[0.00147,0.011],[0.00137,0.0123],[0.0013,0.0115],[0.00118,0.013],[0.00114,0.018],[0.0012,0.026],[0.0011,0.026],[0.00102,0.036],[0.00097,0.032],[0.00094,0.023],[0.00092,0.02],
  [0.00124,0.0088],[0.00131,0.0077],[0.0014,0.0077],[0.00147,0.0088],[0.00155,0.0072],[0.0016,0.0088],[0.00168,0.0077],[0.00176,0.0069],[0.00138,0.0059],[0.00136,0.0048],[0.00142,0.004],[0.00147,0.003],[0.0014,0.0025],[0.00131,0.0028],[0.00148,0.0016],[0.00148,0.0012],[0.00122,0.0023],[0.0012,0.0034],[0.0011,0.001],[0.00083,0.0063],
  [0.00105,0.08],[0.0011,0.07],[0.0012,0.085],[0.00125,0.095],[0.0013,0.11],[0.0012,0.14],[0.00124,0.18],[0.0013,0.2],[0.00115,0.09],[0.00108,0.1],[0.0014,0.14],[0.00145,0.12],[0.00142,0.06],[0.00155,0.055],[0.0017,0.06],[0.00185,0.07],[0.0019,0.08],[0.00205,0.075],[0.0022,0.065],[0.0023,0.055],[0.0025,0.06],[0.0028,0.055],[0.0033,0.06],[0.0035,0.07],[0.0036,0.1],[0.0032,0.085],[0.0014,0.032],[0.0015,0.03],[0.0017,0.034],[0.0018,0.022],[0.0019,0.017],[0.002,0.014],[0.0015,0.014],[0.0016,0.017],[0.0013,0.016],[0.00125,0.02],[0.00105,0.03],[0.00102,0.025],[0.0016,0.0095],[0.0015,0.006],[0.0016,0.005],[0.0017,0.0045]];
const eOrangeFit = [[4.72e-4, 0.1], [2.5e-3, 7.85e-5]];
const ePurpleFit = [[4.72e-4, 0.0161], [5.33e-3, 0.122]];

// (f) Males 65+
const fOrange = [[0.00137,0.093],[0.0013,0.058],[0.00114,0.051],[0.00128,0.048],[0.00116,0.039],[0.00113,0.034],[0.00106,0.027],[0.0011,0.026],[0.0012,0.028],[0.0013,0.034],[0.00108,0.017],[0.00103,0.014],[0.00112,0.015],[0.00123,0.017],[0.0013,0.02],[0.00138,0.023],[0.00145,0.029],[0.00154,0.051],[0.00159,0.042],[0.00157,0.026],[0.0015,0.017],[0.00138,0.0129],[0.00129,0.0116],[0.0012,0.011],[0.0011,0.0101],[0.00104,0.0095],
  [0.00097,0.0077],[0.001,0.0063],[0.00104,0.0077],[0.0011,0.0074],[0.00116,0.0083],[0.00126,0.0077],[0.00134,0.0068],[0.00143,0.0063],[0.00152,0.0059],[0.00163,0.0072],[0.00104,0.0042],[0.0011,0.0048],[0.00116,0.0039],[0.00128,0.0045],[0.00136,0.0042],[0.00146,0.0039],[0.00155,0.0045],
  [0.0011,0.0026],[0.00116,0.0028],[0.00128,0.0028],[0.00138,0.0025],[0.00146,0.0023],[0.00155,0.0025],[0.00163,0.0028],[0.00101,0.0015],[0.00108,0.0016],[0.00112,0.00143],[0.00124,0.0017],[0.0013,0.00143],[0.00138,0.00125],[0.00146,0.00134],[0.00152,0.00116],[0.0011,0.0011],[0.00116,0.00095],
  [0.00106,0.00073],[0.00111,0.00068],[0.00116,0.00073],[0.00124,0.00073],[0.0013,0.00068],[0.00134,0.00063],[0.00141,0.00063],[0.00146,0.00058],[0.0012,0.00063],
  [0.00118,0.022],[0.00125,0.013],[0.00132,0.0095],[0.00122,0.0058],[0.0014,0.0033],[0.0012,0.0019],[0.00133,0.0022],[0.0015,0.0034],
  [0.00118,0.045],[0.00122,0.04],[0.00126,0.036],[0.00132,0.04],[0.00135,0.045],[0.00125,0.03],[0.00115,0.025],[0.00118,0.018],[0.00128,0.015],[0.00135,0.017],[0.00142,0.018],[0.00145,0.014],[0.00108,0.012],[0.00115,0.0125],[0.00135,0.0105],[0.00142,0.0095],[0.0015,0.0085],[0.00155,0.0075],[0.0012,0.0068],[0.00128,0.006],[0.00138,0.0055],[0.00148,0.005],[0.00106,0.0055],[0.00112,0.0035],[0.00122,0.003],[0.00132,0.0034],[0.0015,0.0028],[0.0016,0.0022],[0.00142,0.0019],[0.00128,0.0015],[0.00118,0.0013],[0.00106,0.0011],[0.00108,0.00075],[0.00113,0.0007],[0.00118,0.00066],[0.00122,0.0007],[0.00127,0.00066],[0.00132,0.00061],[0.00138,0.00066],[0.00143,0.0006]];
const fPurple = [[0.00352,0.45],[0.0039,0.38],[0.0044,0.36],[0.0043,0.32],[0.0035,0.29],[0.0033,0.31],[0.0032,0.34],[0.003,0.3],[0.0029,0.3],[0.0028,0.32],[0.0026,0.28],[0.003,0.24],[0.0036,0.1],[0.0032,0.079],[0.0031,0.051],[0.0029,0.04],[0.0029,0.14],[0.0028,0.12],[0.0027,0.096],[0.0026,0.081],[0.0027,0.07],[0.0026,0.056],[0.0032,0.12],
  [0.0024,0.2],[0.0023,0.17],[0.0021,0.17],[0.0019,0.17],[0.0018,0.2],[0.00195,0.14],[0.00183,0.13],[0.00174,0.12],[0.0021,0.12],[0.0023,0.1],[0.0024,0.086],[0.0022,0.076],[0.0023,0.063],[0.0021,0.059],[0.00193,0.065],[0.00183,0.076],[0.00177,0.093],[0.0017,0.1],[0.00162,0.1],[0.00162,0.076],[0.00155,0.059],[0.00168,0.063],[0.00176,0.055],[0.00183,0.047],[0.00193,0.042],[0.0021,0.04],[0.0022,0.038],[0.0022,0.028],[0.0023,0.032],[0.0024,0.03],
  [0.0014,0.081],[0.00138,0.059],[0.00144,0.048],[0.00155,0.042],[0.00168,0.037],[0.00178,0.032],[0.0019,0.029],[0.002,0.025],[0.00165,0.026],[0.00174,0.022],[0.00186,0.021],[0.00196,0.019],[0.0021,0.016],[0.0022,0.0145],[0.0021,0.012],[0.00192,0.0128],[0.0018,0.012],[0.0017,0.0128],[0.00157,0.0135],[0.00148,0.0155],[0.0015,0.026],
  [0.0017,0.0094],[0.00177,0.0082],[0.00186,0.0077],[0.00197,0.0063],[0.0022,0.0086],[0.00186,0.0055],[0.00174,0.0055],[0.00165,0.0059],[0.00162,0.0045],[0.00172,0.0037],[0.00182,0.003],[0.00188,0.0023],[0.00166,0.0024],[0.00169,0.0017],[0.00174,0.0016],[0.00165,0.001],[0.00175,0.00095],[0.00162,0.00053],
  [0.0016,0.045],[0.0017,0.05],[0.0018,0.06],[0.0019,0.05],[0.002,0.055],[0.0021,0.05],[0.002,0.07],[0.0019,0.08],[0.0021,0.085],[0.0022,0.09],[0.0025,0.1],[0.0026,0.12],[0.0025,0.15],[0.0027,0.16],[0.0023,0.13],[0.0022,0.14],[0.002,0.1],[0.0015,0.035],[0.0016,0.03],[0.0018,0.028],[0.0019,0.024],[0.0017,0.018],[0.0016,0.016],[0.0018,0.016],[0.0019,0.015],[0.002,0.011],[0.0016,0.0115],[0.0015,0.009],[0.0016,0.0078],[0.0017,0.0065],[0.0018,0.0068],[0.0019,0.0058],[0.0016,0.0035],[0.0017,0.0029],[0.0018,0.0025],[0.0028,0.05],[0.0035,0.13],[0.0037,0.2],[0.004,0.25],[0.0045,0.3],[0.0034,0.26],[0.0041,0.28]];
const fOrangeFit = [[4.75e-4, 0.0177], [5.26e-3, 0.00089]];
const fPurpleFit = [[4.75e-4, 0.000423], [5.26e-3, 0.73]];

// log ticks 1..9 x 10^n inside [min, max]; decades are major
function logTicks(min, max) {
  const out = [];
  for (let e = Math.floor(Math.log10(min)); e <= Math.ceil(Math.log10(max)); e++) {
    for (let k = 1; k <= 9; k++) {
      const v = k * Math.pow(10, e);
      if (v >= min * 0.999 && v <= max * 1.001) out.push({ v: v, major: k === 1 });
    }
  }
  return out;
}

const boxTicks = {
  id: 'boxTicks',
  afterDraw(chart) {
    const o = chart.options.plugins.boxTicks;
    const { ctx, chartArea: ca } = chart;
    const xs = chart.scales.x, ys = chart.scales.y;
    ctx.save();
    ctx.strokeStyle = '#111';
    ctx.lineWidth = 1;
    ctx.beginPath();
    o.xTicks.forEach(t => {
      const px = Math.round(xs.getPixelForValue(t.v)) + 0.5;
      const len = t.major ? 5 : 3;
      ctx.moveTo(px, ca.bottom); ctx.lineTo(px, ca.bottom + len);
      ctx.moveTo(px, ca.top); ctx.lineTo(px, ca.top - len);
    });
    o.yTicks.forEach(t => {
      const py = Math.round(ys.getPixelForValue(t.v)) + 0.5;
      const len = t.major ? 5 : 3;
      ctx.moveTo(ca.left, py); ctx.lineTo(ca.left - len, py);
      ctx.moveTo(ca.right, py); ctx.lineTo(ca.right + len, py);
    });
    ctx.stroke();
    ctx.lineWidth = 1.4;
    ctx.strokeRect(ca.left, ca.top, ca.right - ca.left, ca.bottom - ca.top);

    ctx.fillStyle = '#000';
    ctx.textBaseline = 'middle';
    ctx.textAlign = 'left';
    o.xLabels.forEach(([v, base, exp]) => {
      const px = xs.getPixelForValue(v);
      ctx.font = '19px "DejaVu Sans"';
      const wb = ctx.measureText(base).width;
      ctx.font = '13px "DejaVu Sans"';
      const we = exp ? ctx.measureText(exp).width : 0;
      const x0 = px - (wb + we) / 2;
      ctx.font = '19px "DejaVu Sans"';
      ctx.fillText(base, x0, ca.bottom + 26);
      if (exp) {
        ctx.font = '13px "DejaVu Sans"';
        ctx.fillText(exp, x0 + wb, ca.bottom + 20);
      }
    });
    ctx.restore();
  }
};

const pairs = arr => arr.map(p => ({ x: p[0], y: p[1] }));

function panel(id, p) {
  const H = document.getElementById(id).height;
  const axisFont = { family: 'DejaVu Sans', size: 19 };
  new Chart(document.getElementById(id), {
    type: 'scatter',
    data: {
      datasets: [
        { data: pairs(p.orangeFit), showLine: true, borderColor: ORANGE, borderWidth: 1.7, pointRadius: 0, order: 0 },
        { data: pairs(p.purpleFit), showLine: true, borderColor: PURPLE, borderWidth: 1.7, pointRadius: 0, order: 0 },
        { data: pairs(p.orange), pointStyle: p.shape, pointRadius: p.r, borderColor: ORANGE, backgroundColor: 'rgba(0,0,0,0)', borderWidth: 1.5, order: 1 },
        { data: pairs(p.purple), pointStyle: p.shape, pointRadius: p.r, borderColor: PURPLE, backgroundColor: 'rgba(0,0,0,0)', borderWidth: 1.5, order: 2 }
      ]
    },
    options: {
      responsive: false,
      animation: false,
      events: [],
      layout: { padding: { left: 20, right: 485 - p.box[1], top: p.box[2], bottom: H - p.box[3] - 62 } },
      plugins: {
        legend: { display: false },
        tooltip: { enabled: false },
        boxTicks: { xTicks: p.xTicks, yTicks: logTicks(p.y[0], p.y[1]), xLabels: p.xLabels }
      },
      scales: {
        x: {
          type: 'logarithmic', min: p.x[0], max: p.x[1], bounds: 'data',
          afterFit: s => { s.height = 62; },
          grid: { display: false, drawTicks: false },
          border: { display: false },
          ticks: { display: false },
          title: { display: true, text: 'P+I death rate', font: axisFont, color: '#000', padding: { top: 0, bottom: 1 } }
        },
        y: {
          type: 'logarithmic', min: p.y[0], max: p.y[1], bounds: 'data',
          afterFit: s => { s.width = p.box[0] - 20; },
          afterBuildTicks: s => { s.ticks = p.yMajor.map(v => ({ value: v })); },
          grid: { display: false, drawTicks: false },
          border: { display: false },
          ticks: { font: axisFont, color: '#000', padding: 15, autoSkip: false, callback: v => yTickText[v] },
          title: { display: true, text: 'I/(P+I)', font: axisFont, color: '#000', padding: { top: p.yTitlePad, bottom: 0 } }
        }
      }
    },
    plugins: [boxTicks]
  });
}

panel('pa', { orange: aOrange, purple: aPurple, orangeFit: aOrangeFit, purpleFit: aPurpleFit, shape: 'circle', r: 2.6,
  box: [145, 432, 71, 310], x: [8.4e-7, 1.22e-3], y: [8.41e-4, 1.174], yMajor: yTicksYoung,
  xTicks: logTicks(8.4e-7, 1.22e-3), xLabels: xLabels019, yTitlePad: 20 });
panel('pb', { orange: bOrange, purple: bPurple, orangeFit: bOrangeFit, purpleFit: bPurpleFit, shape: 'rect', r: 3.4,
  box: [170, 456, 71, 310], x: [8.7e-7, 1.16e-3], y: [8.41e-4, 1.174], yMajor: yTicksYoung,
  xTicks: logTicks(8.7e-7, 1.16e-3), xLabels: xLabels019, yTitlePad: 45 });
panel('pc', { orange: cOrange, purple: cPurple, orangeFit: cOrangeFit, purpleFit: cPurpleFit, shape: 'circle', r: 2.6,
  box: [145, 432, 76, 314], x: [8.9e-6, 1.14e-3], y: [8.3e-4, 1.18], yMajor: yTicksYoung,
  xTicks: logTicks(8.9e-6, 1.14e-3), xLabels: xLabels2064, yTitlePad: 20 });
panel('pd', { orange: dOrange, purple: dPurple, orangeFit: dOrangeFit, purpleFit: dPurpleFit, shape: 'rect', r: 3.4,
  box: [170, 456, 76, 314], x: [9.1e-6, 1.1e-3], y: [8.3e-4, 1.18], yMajor: yTicksYoung,
  xTicks: logTicks(9.1e-6, 1.1e-3), xLabels: xLabels2064, yTitlePad: 45 });
panel('pe', { orange: eOrange, purple: ePurple, orangeFit: eOrangeFit, purpleFit: ePurpleFit, shape: 'circle', r: 2.6,
  box: [145, 432, 91, 330], x: [4.72e-4, 5.33e-3], y: [7.85e-5, 1.25], yMajor: yTicksOld,
  xTicks: xTicks65.map((v, i) => ({ v: v, major: i === 0 || i === xTicks65.length - 1 })), xLabels: xLabels65, yTitlePad: 8 });
panel('pf', { orange: fOrange, purple: fPurple, orangeFit: fOrangeFit, purpleFit: fPurpleFit, shape: 'rect', r: 3.4,
  box: [170, 456, 91, 330], x: [4.75e-4, 5.26e-3], y: [7.85e-5, 1.25], yMajor: yTicksOld,
  xTicks: xTicks65.map((v, i) => ({ v: v, major: i === 0 || i === xTicks65.length - 1 })), xLabels: xLabels65, yTitlePad: 34 });
</script>
</body>
</html>
